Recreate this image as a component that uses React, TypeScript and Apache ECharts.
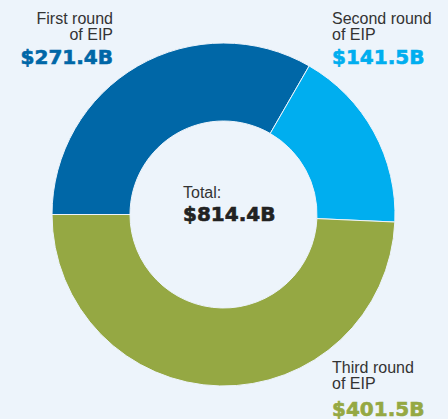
import React, { useEffect, useRef } from "react";
import * as echarts from "echarts";

const categories = ["First round of EIP", "Second round of EIP", "Third round of EIP"];
const values = [271.4, 141.5, 401.5];
const valueLabels = ["$271.4B", "$141.5B", "$401.5B"];
const totalLabel = "$814.4B";
const colors = ["#0067a7", "#00aeef", "#95a843"];
const bg = "#edf4fb";

export default function App() {
  const ref = useRef<HTMLDivElement>(null);
  useEffect(() => {
    document.body.style.margin = "0";
    const chart = echarts.init(ref.current!, null, { renderer: "svg" });
    const regular = {
      fontFamily: "Liberation Sans, Arial, sans-serif",
      fontSize: 16,
      lineHeight: 15,
      fill: "#333333",
    };
    const bold = (c: string) => ({
      fontFamily: "DejaVu Sans",
      fontSize: 20,
      lineHeight: 18,
      fontWeight: "bold" as const,
      fill: c,
      stroke: c,
      lineWidth: 0.6,
    });
    const txt = (x: number, y: number, text: string, align: string, style: any) => ({
      type: "text",
      x,
      y,
      style: { text, align, verticalAlign: "middle", ...style },
    });
    chart.setOption({
      animation: false,
      backgroundColor: bg,
      series: [
        {
          type: "pie",
          center: [223.5, 214.5],
          radius: [93.5, 171.5],
          startAngle: 180,
          clockwise: true,
          label: { show: false },
          labelLine: { show: false },
          emphasis: { disabled: true },
          itemStyle: { borderColor: bg, borderWidth: 1 },
          data: categories.map((c, i) => ({ name: c, value: values[i], itemStyle: { color: colors[i] } })),
        },
      ],
      graphic: [
        txt(113, 18, "First round", "right", regular),
        txt(113, 34, "of EIP", "right", regular),
        txt(113, 57, valueLabels[0], "right", bold(colors[0])),
        txt(332, 18, "Second round", "left", regular),
        txt(332, 34, "of EIP", "left", regular),
        txt(332, 57, valueLabels[1], "left", bold(colors[1])),
        txt(332, 367, "Third round", "left", regular),
        txt(332, 383, "of EIP", "left", regular),
        txt(332, 408.5, valueLabels[2], "left", bold(colors[2])),
        txt(183, 192, "Total:", "left", regular),
        txt(183, 213.5, totalLabel, "left", bold("#222222")),
      ],
    });
    return () => chart.dispose();
  }, []);
  return <div ref={ref} style={{ width: 448, height: 419, background: bg }} />;
}
